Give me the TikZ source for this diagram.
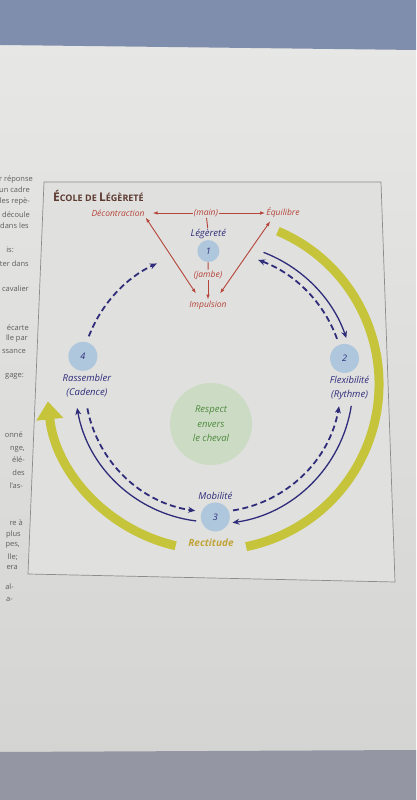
\documentclass[tikz,border=0pt]{standalone}
\usepackage{fontspec}
\setmainfont{Open Sans}
\usetikzlibrary{positioning,calc,arrows.meta}
\definecolor{pagetop}{HTML}{E8E8E6}
\definecolor{pagelow}{HTML}{D3D3D1}
\definecolor{boxfill}{HTML}{E0E0DE}
\definecolor{framegray}{HTML}{8C8C8C}
\definecolor{cloth}{HTML}{7F8EAC}
\definecolor{clothlow}{HTML}{9497A3}
\definecolor{margray}{HTML}{5E5E5E}
\definecolor{titlebrown}{HTML}{5C3A30}
\definecolor{darkred}{HTML}{B5443A}
\definecolor{navy}{HTML}{2F2C7A}
\definecolor{dotblue}{HTML}{AFC7DD}
\definecolor{sage}{HTML}{CCDBC4}
\definecolor{leaf}{HTML}{4E8A3F}
\definecolor{band}{HTML}{C6C43A}
\definecolor{ochre}{HTML}{C1A43A}

\begin{document}
\begin{tikzpicture}[x=1pt,y=1pt,inner sep=1pt,
redtxt/.style={text=darkred,font=\fontsize{8.5}{10}\selectfont\itshape},
bluetxt/.style={text=navy,font=\fontsize{9.5}{14}\selectfont\itshape,align=center},
stepdot/.style={circle,fill=dotblue,minimum size=29pt,inner sep=0pt,text=navy,font=\fontsize{9}{9}\selectfont\itshape},
redline/.style={draw=darkred,line width=0.9pt,-{Latex[length=5pt,width=3.5pt]}},
fwd/.style={draw=navy,line width=1.3pt,-{Stealth[length=7pt,width=6pt]}},
back/.style={fwd,line width=1.8pt,dash pattern=on 6pt off 3.5pt},
yelband/.style={draw=band,line width=9pt},
margtxt/.style={anchor=east,text=margray,font=\fontsize{7.5}{8}\selectfont}]
\useasboundingbox (0,0) rectangle (416,800);
\begin{scope}
\clip (0,0) rectangle (416,800);
% page, cloth round it
\shade[top color=pagetop,bottom color=pagelow] (0,0) rectangle (416,800);
\fill[cloth] (0,800) -- (0,755) -- (416,750) -- (416,800) -- cycle;
\fill[clothlow] (0,0) -- (0,48) -- (416,50) -- (416,0) -- cycle;
% cut text of the page
\foreach \y/\x/\t in {180/34/r réponse,190/31/un cadre,202/31/les repè-,215/31/découle,226/30/dans les,
  250/15/is:,264/30/ter dans,289/30/cavalier,328/30/écarte,339/29/lle par,351/27/ssance,376/25/gage:,
  435/24/onné,449/26/{nge,},460/26/élé-,473/26/des,486/24/l'as-,523/24/re à,535/22/plus,545/21/{pes,},
  557/19/lle;,567/19/era,587/15/al-,599/14/a-}
  \node[margtxt] at (\x,800-\y) {\t};
\end{scope}
% frame
\draw[framegray,line width=0.7pt,fill=boxfill] (44,618) -- (381,618) -- (395,218) -- (28,226) -- cycle;
\node[anchor=west,text=titlebrown,font=\bfseries] (title) at (52,604)
  {{\fontsize{12}{12}\selectfont É}{\fontsize{9}{9}\selectfont COLE DE }{\fontsize{12}{12}\selectfont L}{\fontsize{9}{9}\selectfont ÉGÈRETÉ}};
% yellow bands
\coordinate (C) at (213,416);
\draw[yelband] ($(C)+(67:166)$) arc[start angle=67,end angle=-78.5,radius=166pt];
\draw[yelband,-{Triangle[length=18pt,width=26pt]}] ($(C)+(257:166)$) arc[start angle=257,end angle=186,radius=166pt];
\node[text=ochre,font=\fontsize{10}{10}\selectfont\bfseries\itshape] (rect) at (211,257) {Rectitude};
% the four steps
\node[stepdot,minimum size=22pt] (n1) at ($(C)+(92:133)$) {1};
\node[stepdot] (n2) at ($(C)+(11:134)$) {2};
\node[stepdot] (n3) at ($(C)+(271:133)$) {3};
\node[stepdot] (n4) at ($(C)+(168:133)$) {4};
\node[bluetxt,above=0pt of n1] (leg) {Légèreté};
\node[bluetxt,below=2pt of n2,xshift=5pt] (flex) {Flexibilité\\(Rythme)};
\node[bluetxt,below=2pt of n4,xshift=4pt] (rass) {Rassembler\\(Cadence)};
\node[bluetxt,above=1pt of n3] (mob) {Mobilité};
\node[circle,fill=sage,minimum size=82pt,text=leaf,font=\fontsize{9.5}{14.5}\selectfont\itshape,align=center] (resp) at (211,376) {Respect\\envers\\le cheval};
% triangle of the aids
\node[redtxt] (main) at (206,587) {(main)};
\node[redtxt] (dec) at (118,587) {Décontraction};
\node[redtxt] (equ) at (283,587) {Équilibre};
\node[redtxt] (jam) at (208,525) {(jambe)};
\node[redtxt] (imp) at (208,495) {Impulsion};
\draw[redline,shorten >=7pt] (main) -- (dec);
\draw[redline] (main) -- (equ);
\draw[redline,-] (main) -- (leg);
\draw[redline,-] (n1) -- (jam);
\draw[redline] (jam) -- (imp);
\draw[redline,{Latex[length=5pt,width=3.5pt]}-{Latex[length=5pt,width=3.5pt]}] (dec.south east) -- ([xshift=-12pt,yshift=6pt]imp.north);
\draw[redline,{Latex[length=5pt,width=3.5pt]}-{Latex[length=5pt,width=3.5pt]}] ([xshift=12pt,yshift=6pt]imp.north) -- ([xshift=5pt,yshift=-2pt]equ.south west);
% blue arcs, forward and back
\coordinate (s12) at ($(C)+(69:141)$);
\coordinate (s23) at ($(C)+(-9:140)$);
\coordinate (s34) at ($(C)+(263:138)$);
\coordinate (d21) at ($(C)+(20:132)$);
\coordinate (d32) at ($(C)+(-81:128)$);
\coordinate (d43) at ($(C)+(191:128)$);
\coordinate (d41) at ($(C)+(159:133)$);
\draw[fwd] (s12) arc[start angle=69,end angle=19,radius=141pt];
\draw[fwd] (s23) arc[start angle=-9,end angle=-82,radius=140pt];
\draw[fwd] (s34) arc[start angle=263,end angle=190,radius=138pt];
\draw[back] (d21) arc[start angle=20,end angle=70,radius=132pt];
\draw[back] (d32) arc[start angle=-81,end angle=-10,radius=128pt];
\draw[back] (d43) arc[start angle=191,end angle=262,radius=128pt];
\draw[back] (d41) arc[start angle=159,end angle=115,radius=133pt];
\end{tikzpicture}
\end{document}
